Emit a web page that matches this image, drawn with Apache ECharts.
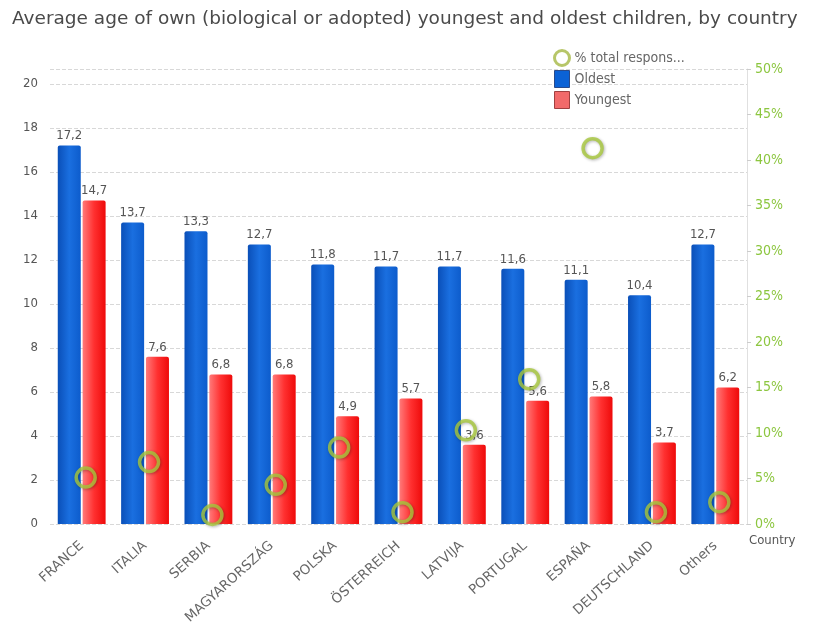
<!DOCTYPE html>
<html>
<head>
<meta charset="utf-8">
<script src="https://cdn.jsdelivr.net/npm/echarts@6/dist/echarts.min.js"></script>
<style>
  html, body { margin: 0; padding: 0; background: #fff; }
  #chart { width: 817px; height: 628px; }
</style>
</head>
<body>
<div id="chart"></div>
<script>
// categories and values
const countries = ['FRANCE', 'ITALIA', 'SERBIA', 'MAGYARORSZÁG', 'POLSKA', 'ÖSTERREICH', 'LATVIJA', 'PORTUGAL', 'ESPAÑA', 'DEUTSCHLAND', 'Others'];
const oldest = [17.2, 13.7, 13.3, 12.7, 11.8, 11.7, 11.7, 11.6, 11.1, 10.4, 12.7];
const youngest = [14.7, 7.6, 6.8, 6.8, 4.9, 5.7, 3.6, 5.6, 5.8, 3.7, 6.2];
const pctResp = [5.1, 6.8, 1.0, 4.3, 8.4, 1.3, 10.3, 15.9, 41.3, 1.3, 2.4];

const chart = echarts.init(document.getElementById('chart'));

// comma decimal like the original
const fmt = p => p.value.toFixed(1).replace('.', ',');

const barLabel = {
    show: true,
    position: 'top',
    distance: 3,
    color: '#555',
    fontSize: 13,
    fontFamily: 'DejaVu Sans Condensed',
    formatter: fmt
};

const option = {
    backgroundColor: '#fff',
    animation: false,
    title: {
        text: 'Average age of own (biological or adopted) youngest and oldest children, by country',
        left: 7,
        top: 5,
        textStyle: { color: '#4a4a4a', fontSize: 18.5, fontWeight: 'normal', fontFamily: 'DejaVu Sans' }
    },
    legend: {
        orient: 'vertical',
        left: 548,
        top: 44,
        itemGap: 3,
        itemWidth: 15,
        itemHeight: 17,
        textStyle: { color: '#666', fontSize: 14, fontFamily: 'DejaVu Sans Condensed' },
        data: [
            { name: '% total respons...', icon: 'circle', itemStyle: { color: '#fff', borderColor: '#a5b844', borderWidth: 3 } },
            { name: 'Oldest', icon: 'rect', itemStyle: { color: '#0b62d6', borderColor: '#2a4a8a', borderWidth: 1 } },
            { name: 'Youngest', icon: 'rect', itemStyle: { color: '#f26a6a', borderColor: '#a04040', borderWidth: 1 } }
        ]
    },
    grid: { left: 50, right: 70, top: 69, bottom: 104 },
    xAxis: {
        type: 'category',
        data: countries,
        name: 'Country',
        nameLocation: 'end',
        nameGap: 2,
        nameTextStyle: { color: '#555', fontSize: 13, fontFamily: 'DejaVu Sans Condensed', verticalAlign: 'top', padding: [10, 0, 0, 0] },
        axisLine: { show: false },
        axisTick: { show: false },
        axisLabel: {
            rotate: 42,
            color: '#666',
            fontSize: 13.5,
            fontFamily: 'DejaVu Sans',
            margin: 20,
            interval: 0
        }
    },
    yAxis: [
        {
            type: 'value',
            min: 0,
            max: 20.68,
            interval: 2,
            axisLine: { show: false },
            axisTick: { show: false },
            axisLabel: { color: '#555', fontSize: 13, fontFamily: 'DejaVu Sans Condensed', showMaxLabel: false, margin: 12 },
            splitLine: { lineStyle: { color: '#d8d8d8', type: 'dashed' } }
        },
        {
            type: 'value',
            min: 0,
            max: 50,
            interval: 5,
            position: 'right',
            axisLine: { show: true, lineStyle: { color: '#e0e0e0' } },
            axisTick: { show: true, length: 4, lineStyle: { color: '#ccc' } },
            axisLabel: { color: '#8cc63f', fontSize: 14, fontFamily: 'DejaVu Sans Condensed', formatter: '{value}%', margin: 8 },
            splitLine: { show: false }
        }
    ],
    series: [
        {
            name: 'Oldest',
            type: 'bar',
            data: oldest,
            barWidth: 23,
            barGap: '8%',
            itemStyle: {
                borderRadius: [2, 2, 0, 0],
                color: new echarts.graphic.LinearGradient(0, 0, 1, 0, [
                    { offset: 0, color: '#0a4fb8' },
                    { offset: 0.5, color: '#1a6fe0' },
                    { offset: 1, color: '#0d5ccc' }
                ])
            },
            label: barLabel
        },
        {
            name: 'Youngest',
            type: 'bar',
            data: youngest,
            barWidth: 23,
            itemStyle: {
                borderRadius: [2, 2, 0, 0],
                color: new echarts.graphic.LinearGradient(0, 0, 1, 0, [
                    { offset: 0, color: '#ff7a7a' },
                    { offset: 0.5, color: '#ff3030' },
                    { offset: 1, color: '#ee0a0a' }
                ])
            },
            label: barLabel
        },
        {
            name: '% total respons...',
            type: 'scatter',
            yAxisIndex: 1,
            data: pctResp,
            symbol: 'circle',
            symbolSize: 19,
            symbolOffset: [4, 0],
            z: 5,
            itemStyle: {
                color: 'rgba(0,0,0,0)',
                borderColor: '#a8c83c',
                borderWidth: 3.5,
                shadowColor: 'rgba(0,0,0,0.35)',
                shadowBlur: 3,
                shadowOffsetX: 1,
                shadowOffsetY: 1
            }
        }
    ]
};

chart.setOption(option);
</script>
</body>
</html>
